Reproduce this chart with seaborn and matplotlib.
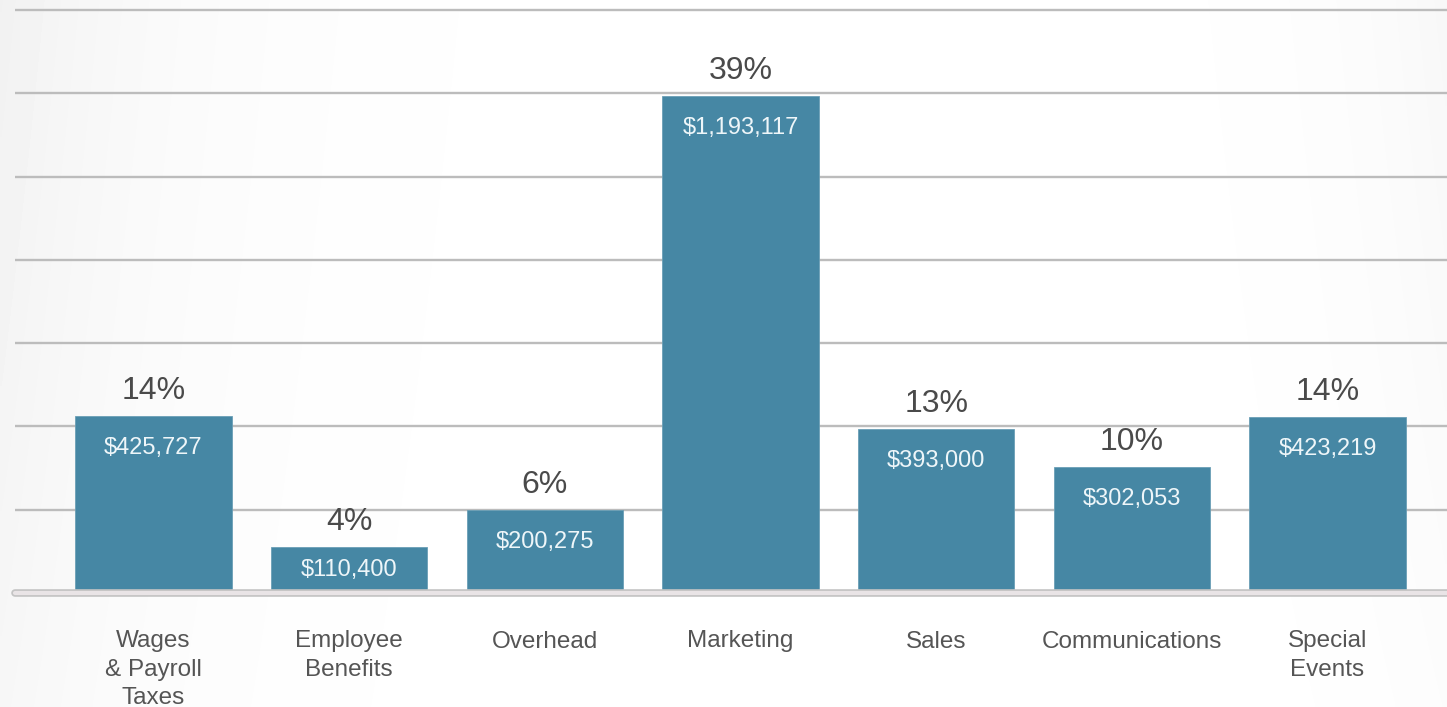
import numpy as np
import pandas as pd
import matplotlib
matplotlib.use("Agg")
import matplotlib.pyplot as plt
import seaborn as sns

# Budget by expense category
categories = ["Wages\n& Payroll\nTaxes", "Employee\nBenefits", "Overhead", "Marketing",
              "Sales", "Communications", "Special\nEvents"]
amounts = [425727, 110400, 200275, 1193117, 393000, 302053, 423219]
shares = ["14%", "4%", "6%", "39%", "13%", "10%", "14%"]
value_labels = ["$425,727", "$110,400", "$200,275", "$1,193,117", "$393,000", "$302,053", "$423,219"]

df = pd.DataFrame({"category": categories, "amount": amounts})

sns.set_theme(style="white")
plt.rcParams["font.family"] = ["Liberation Sans", "DejaVu Sans"]

W, H = 1447, 707
fig = plt.figure(figsize=(W / 100, H / 100), dpi=100)
fig.patch.set_facecolor("white")

# soft grey vignette along the side edges
bg = fig.add_axes([0, 0, 1, 1], zorder=-10)
xx = np.linspace(0, 1, 400)
yy = np.linspace(0, 1, 200)
X, Y = np.meshgrid(xx, yy)
shade = 0.055 * np.exp(-X / 0.12) * (0.6 + 0.4 * Y) + 0.03 * np.exp(-(1 - X) / 0.08) * (0.4 + 0.6 * Y)
bg.imshow(1 - shade, cmap="gray", vmin=0, vmax=1, aspect="auto", origin="lower",
          extent=[0, 1, 0, 1], interpolation="bilinear")
bg.set_axis_off()

left = 15 / W
bottom = 1 - 593 / H
ax = fig.add_axes([left, bottom, 1 - left, 593 / H])
ax.patch.set_alpha(0)

sns.barplot(data=df, x="category", y="amount", color="#4687a4", saturation=1,
            width=0.8, ax=ax, zorder=3, edgecolor="#6b9fb6", linewidth=0.6)

ax.set_xlim(-0.708, 6.611)
ax.set_ylim(0, 1.424e6)
ax.set_yticks(np.arange(0, 1.4e6 + 1, 2e5))
ax.yaxis.grid(True, color="#bcbcbc", linewidth=1.7, zorder=0)
ax.set_axisbelow(True)
ax.tick_params(axis="y", left=False, labelleft=False)
for s in ax.spines.values():
    s.set_visible(False)

# floor line under the bars
ax.axhline(0, color="#c4c4c4", linewidth=5.5, zorder=5, clip_on=False)
ax.axhline(0, color="#e9e4e6", linewidth=3.0, zorder=6, clip_on=False)

ax.set_xlabel("")
ax.set_ylabel("")
ax.set_xticks(range(len(categories)))
ax.set_xticklabels(categories, fontsize=17.5, color="#555555", linespacing=1.38)
ax.tick_params(axis="x", length=0, pad=27)

px = 1.424e6 / 593  # data units per pixel
for i, (v, pct, lab) in enumerate(zip(amounts, shares, value_labels)):
    ax.annotate(pct, (i, v), xytext=(0, 18), textcoords="offset points",
                ha="center", va="center", fontsize=23, color="#4a4a4a", zorder=7)
    y_in = max(v - 32 * px, v / 2)
    ax.text(i, y_in, lab, ha="center", va="center", fontsize=17,
            color="#eef6f9", zorder=7)

fig.savefig("out.png", dpi=100)
